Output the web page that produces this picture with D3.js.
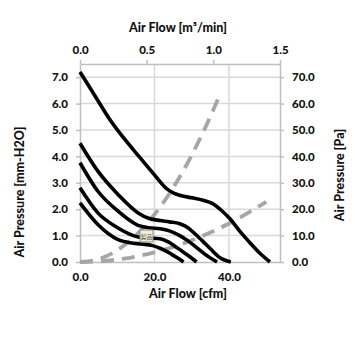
<!DOCTYPE html>
<html><head><meta charset="utf-8">
<script src="https://cdn.jsdelivr.net/npm/d3@7"></script>
<style>html,body{margin:0;padding:0;background:#fff;}svg{display:block;}</style>
</head><body>
<svg id="c" width="355" height="355"></svg>
<script>
// Fan P-Q curves (cfm, mm-H2O)
const c1Q = [0, 4, 8, 12, 16, 20, 23.5, 25, 27, 30, 33, 35.5, 38, 40.5, 43, 45.5, 48.3, 51];
const c1P = [7.2, 6.3, 5.4, 4.65, 3.97, 3.3, 2.75, 2.62, 2.52, 2.43, 2.34, 2.22, 1.95, 1.6, 1.15, 0.75, 0.33, 0];
const c2Q = [0, 4.8, 10.2, 15.6, 18.6, 21.5, 24, 26.8, 29, 31, 33, 35, 37.6, 40.5];
const c2P = [4.5, 3.44, 2.56, 1.86, 1.65, 1.57, 1.52, 1.45, 1.3, 1.05, 0.78, 0.5, 0.16, 0];
const c3Q = [0, 4.8, 10.2, 15.6, 18.5, 21.5, 24, 26.8, 29, 31, 33.5, 36.8];
const c3P = [3.76, 2.68, 1.93, 1.39, 1.3, 1.26, 1.18, 1.0, 0.8, 0.58, 0.3, 0];
const c4Q = [0, 4.8, 10.2, 15.6, 18.5, 21.5, 23.7, 25.5, 27.5, 29.5, 31.3];
const c4P = [2.81, 1.86, 1.29, 0.95, 0.91, 0.88, 0.76, 0.6, 0.4, 0.2, 0];
const c5Q = [0, 4.8, 10.2, 13.5, 16.5, 19.5, 21.5, 23, 24.5, 26, 27.8];
const c5P = [2.24, 1.42, 0.85, 0.73, 0.68, 0.62, 0.52, 0.42, 0.3, 0.17, 0];
// System impedance curves (dashed)
const sAQ = [0, 5, 10, 15, 20, 25, 30, 35, 37];
const sAP = [0, 0.11, 0.45, 1.01, 1.8, 2.81, 4.05, 5.51, 6.16];
const sBQ = [0, 5, 10, 15, 20, 25, 30, 35, 40, 45, 50];
const sBP = [0, 0.023, 0.091, 0.205, 0.365, 0.57, 0.82, 1.12, 1.46, 1.85, 2.28];
// ticks
const xTicksCfm = [0, 20, 40];
const xTicksM3 = [0, 0.5, 1.0, 1.5];
const yTicksLeft = [0, 1, 2, 3, 4, 5, 6, 7];
const yTicksRight = [0, 10, 20, 30, 40, 50, 60, 70];

const svg = d3.select("#c");
const L = 80, R = 280, T = 64, B = 262;
const x = d3.scaleLinear([0, 53.7], [L, R]);
const xTop = d3.scaleLinear([0, 1.5], [L, R]);
const y = d3.scaleLinear([0, 7.5], [B, T]);
const yR = d3.scaleLinear([0, 75], [B, T]);
const font = "Lato, 'Open Sans', sans-serif";
const txt = "#111";

// gridlines
const g = svg.append("g");
g.selectAll("line.h").data(yTicksLeft.slice(1)).join("line")
  .attr("x1", L).attr("x2", R).attr("y1", d => y(d)).attr("y2", d => y(d))
  .attr("stroke", "#d9d9d9").attr("stroke-width", 1.5);
g.selectAll("line.v").data(xTicksCfm.slice(1)).join("line")
  .attr("y1", T).attr("y2", B).attr("x1", d => x(d)).attr("x2", d => x(d))
  .attr("stroke", "#d9d9d9").attr("stroke-width", 1.5);

// axes
function styleAxis(sel) {
  sel.selectAll(".domain").attr("stroke", "#bfbfbf").attr("stroke-width", 1.5);
  sel.selectAll(".tick line").attr("stroke", "#bfbfbf").attr("stroke-width", 1.5);
  sel.selectAll("text").attr("font-family", font).attr("font-weight", "900")
    .attr("font-size", 11.5).attr("fill", txt);
}
svg.append("g").attr("transform", `translate(0,${B})`)
  .call(d3.axisBottom(x).tickValues(xTicksCfm).tickFormat(d3.format(".1f")).tickSize(0).tickPadding(11))
  .call(styleAxis);
svg.append("g").attr("transform", `translate(0,${T})`)
  .call(d3.axisTop(xTop).tickValues(xTicksM3).tickFormat(d3.format(".1f")).tickSize(4).tickPadding(6).tickSizeOuter(0))
  .call(styleAxis);
svg.append("g").attr("transform", `translate(${L},0)`)
  .call(d3.axisLeft(y).tickValues(yTicksLeft).tickFormat(d3.format(".1f")).tickSize(4).tickPadding(8).tickSizeOuter(0))
  .call(styleAxis);
svg.append("g").attr("transform", `translate(${R},0)`)
  .call(d3.axisRight(yR).tickValues(yTicksRight).tickFormat(d3.format(".1f")).tickSize(4).tickPadding(8).tickSizeOuter(0))
  .call(styleAxis);

// dashed system curves
const line = d3.line().x(d => x(d[0])).y(d => y(d[1])).curve(d3.curveMonotoneX);
const sys = [d3.zip(sAQ, sAP), d3.zip(sBQ, sBP)];
svg.append("g").selectAll("path").data(sys).join("path")
  .attr("d", line).attr("fill", "none").attr("stroke", "#a6a6a6")
  .attr("stroke-width", 3.8).attr("stroke-dasharray", "13,8");

// fan curves
const fans = [d3.zip(c1Q, c1P), d3.zip(c2Q, c2P), d3.zip(c3Q, c3P), d3.zip(c4Q, c4P), d3.zip(c5Q, c5P)];
svg.append("g").selectAll("path").data(fans).join("path")
  .attr("d", line).attr("fill", "none").attr("stroke", "#000")
  .attr("stroke-width", 3.6).attr("stroke-linejoin", "round");

// small embedded icon
const ic = svg.append("g");
ic.append("rect").attr("x", 140).attr("y", 230).attr("width", 13).attr("height", 12)
  .attr("fill", "#f3efd6").attr("stroke", "#8a8a7a").attr("stroke-width", 1);
ic.append("text").attr("x", 146.5).attr("y", 239).attr("text-anchor", "middle")
  .attr("font-family", "'Noto Sans CJK JP'").attr("font-size", 6).attr("fill", "#555")
  .text("製品");

// titles
const tf = 12.5;
svg.append("text").attr("x", 178).attr("y", 32).attr("text-anchor", "middle")
  .attr("font-family", font).attr("font-weight", "900").attr("font-size", tf).attr("fill", txt)
  .text("Air Flow [m³/min]");
svg.append("text").attr("x", 188).attr("y", 298).attr("text-anchor", "middle")
  .attr("font-family", font).attr("font-weight", "900").attr("font-size", tf).attr("fill", txt)
  .text("Air Flow [cfm]");
svg.append("text").attr("transform", "translate(24,192) rotate(-90)").attr("text-anchor", "middle")
  .attr("font-family", font).attr("font-weight", "900").attr("font-size", tf).attr("fill", txt)
  .text("Air Pressure [mm-H2O]");
svg.append("text").attr("transform", "translate(344,175) rotate(-90)").attr("text-anchor", "middle")
  .attr("font-family", font).attr("font-weight", "900").attr("font-size", tf).attr("fill", txt)
  .text("Air Pressure [Pa]");
</script>
</body></html>
